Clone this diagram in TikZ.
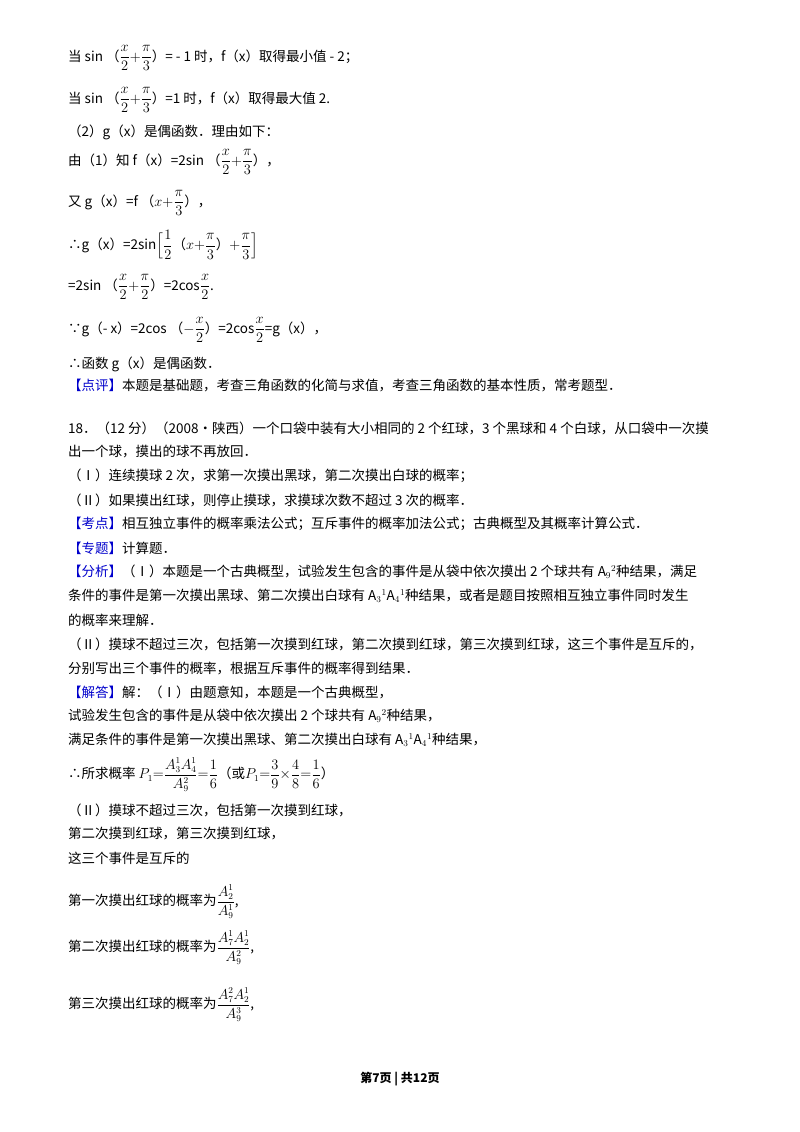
\documentclass[tikz,border=0pt]{standalone}
\usepackage{amsmath}
\usepackage{fontspec}
\setmainfont{Liberation Serif}
\newfontfamily\cjk{Noto Sans CJK SC}
\begin{document}
\begin{tikzpicture}[x=1pt,y=-1pt,
  ln/.style={anchor=west,inner sep=0pt,font=\fontsize{13.5}{16}\selectfont\cjk}]
\useasboundingbox (0,0) rectangle (800,1132);
\fill[white] (0,0) rectangle (800,1132);
\node[ln] (l1) at (68,58) {当 sin （$\dfrac{x}{2}{+}\dfrac{\pi}{3}$）= - 1 时，f（x）取得最小值 - 2；};
\node[ln] (l2) at (68,100) {当 sin （$\dfrac{x}{2}{+}\dfrac{\pi}{3}$）=1 时，f（x）取得最大值 2.};
\node[ln] (l3) at (68,132) {（2）g（x）是偶函数．理由如下：};
\node[ln] (l4) at (68,162) {由（1）知 f（x）=2sin （$\dfrac{x}{2}{+}\dfrac{\pi}{3}$），};
\node[ln] (l5) at (68,203) {又 g（x）=f （$x{+}\dfrac{\pi}{3}$），};
\node[ln] (l6) at (68,245) {∴g（x）=2sin$\Big[\dfrac{1}{2}$（$x{+}\dfrac{\pi}{3}$）$+\dfrac{\pi}{3}\Big]$};
\node[ln] (l7) at (68,287) {=2sin （$\dfrac{x}{2}{+}\dfrac{\pi}{2}$）=2cos$\dfrac{x}{2}$.};
\node[ln] (l8) at (68,330) {∵g（- x）=2cos （$-\dfrac{x}{2}$）=2cos$\dfrac{x}{2}$=g（x），};
\node[ln] (l9) at (68,364) {∴函数 g（x）是偶函数．};
\node[ln] (l10) at (68,386) {\textcolor{blue!80!black}{【点评】}本题是基础题，考查三角函数的化简与求值，考查三角函数的基本性质，常考题型．};
\node[ln] (l11) at (68,428) {18．（12 分）（2008•陕西）一个口袋中装有大小相同的 2 个红球，3 个黑球和 4 个白球，从口袋中一次摸};
\node[ln] (l12) at (68,452) {出一个球，摸出的球不再放回．};
\node[ln] (l13) at (68,476) {（Ⅰ）连续摸球 2 次，求第一次摸出黑球，第二次摸出白球的概率；};
\node[ln] (l14) at (68,500) {（Ⅱ）如果摸出红球，则停止摸球，求摸球次数不超过 3 次的概率．};
\node[ln] (l15) at (68,524) {\textcolor{blue!80!black}{【考点】}相互独立事件的概率乘法公式；互斥事件的概率加法公式；古典概型及其概率计算公式．};
\node[ln] (l16) at (68,548) {\textcolor{blue!80!black}{【专题】}计算题．};
\node[ln] (l17) at (68,572) {\textcolor{blue!80!black}{【分析】}（Ⅰ）本题是一个古典概型，试验发生包含的事件是从袋中依次摸出 2 个球共有 A$_9{}^2$种结果，满足};
\node[ln] (l18) at (68,596) {条件的事件是第一次摸出黑球、第二次摸出白球有 A$_3{}^1$A$_4{}^1$种结果，或者是题目按照相互独立事件同时发生};
\node[ln] (l19) at (68,620) {的概率来理解．};
\node[ln] (l20) at (68,644) {（Ⅱ）摸球不超过三次，包括第一次摸到红球，第二次摸到红球，第三次摸到红球，这三个事件是互斥的，};
\node[ln] (l21) at (68,668) {分别写出三个事件的概率，根据互斥事件的概率得到结果．};
\node[ln] (l22) at (68,692) {\textcolor{blue!80!black}{【解答】}解：（Ⅰ）由题意知，本题是一个古典概型，};
\node[ln] (l23) at (68,716) {试验发生包含的事件是从袋中依次摸出 2 个球共有 A$_9{}^2$种结果，};
\node[ln] (l24) at (68,740) {满足条件的事件是第一次摸出黑球、第二次摸出白球有 A$_3{}^1$A$_4{}^1$种结果，};
\node[ln] (l25) at (68,775) {∴所求概率 $P_1{=}\dfrac{A_3^1A_4^1}{A_9^2}{=}\dfrac{1}{6}$（或$P_1{=}\dfrac{3}{9}{\times}\dfrac{4}{8}{=}\dfrac{1}{6}$）};
\node[ln] (l26) at (68,810) {（Ⅱ）摸球不超过三次，包括第一次摸到红球，};
\node[ln] (l27) at (68,834) {第二次摸到红球，第三次摸到红球，};
\node[ln] (l28) at (68,858) {这三个事件是互斥的};
\node[ln] (l29) at (68,902) {第一次摸出红球的概率为$\dfrac{A_2^1}{A_9^1}$,};
\node[ln] (l30) at (68,948) {第二次摸出红球的概率为$\dfrac{A_7^1A_2^1}{A_9^2}$,};
\node[ln] (l31) at (68,1005) {第三次摸出红球的概率为$\dfrac{A_7^2A_2^1}{A_9^3}$,};
\node[anchor=center,inner sep=0pt,font=\fontsize{12}{14}\selectfont\cjk\bfseries] (ft) at (400,1079) {第7页 | 共12页};
\end{tikzpicture}
\end{document}
